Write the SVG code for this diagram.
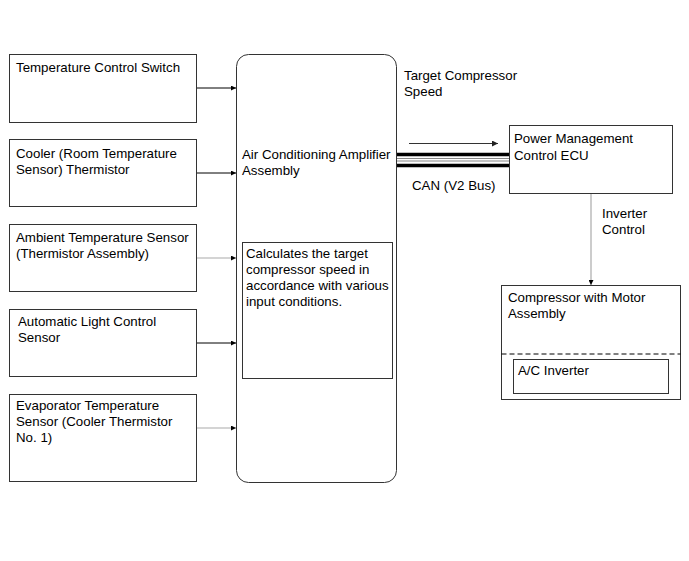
<svg xmlns="http://www.w3.org/2000/svg" width="689" height="561" viewBox="0 0 689 561">
<defs>
<marker id="ah" viewBox="0 0 10 10" refX="10" refY="5" markerWidth="8" markerHeight="5" markerUnits="userSpaceOnUse" orient="auto"><path d="M0,0 L10,5 L0,10 z" fill="#000"/></marker>
<marker id="ah2" viewBox="0 0 10 10" refX="10" refY="5" markerWidth="9" markerHeight="6" markerUnits="userSpaceOnUse" orient="auto"><path d="M0,0 L10,5 L0,10 z" fill="#222"/></marker>
</defs>
<style>
.box{fill:#fff;stroke:#333;stroke-width:1}
text{font-family:"Liberation Sans",Arial,sans-serif;font-size:13.3px;fill:#000}
.ln{stroke:#000;stroke-width:1;fill:none}
.lg{stroke:#aaa;stroke-width:1.2;fill:none}
</style>
<rect width="689" height="561" fill="#fff"/>
<g id="n1"><rect class="box" x="9.5" y="54.5" width="187" height="68"/><text x="16" y="72">Temperature Control Switch</text></g>
<g id="n2"><rect class="box" x="9.5" y="139.5" width="187" height="67"/><text x="16" y="158">Cooler (Room Temperature</text><text x="16" y="174">Sensor) Thermistor</text></g>
<g id="n3"><rect class="box" x="9.5" y="224.5" width="187" height="67"/><text x="16" y="242">Ambient Temperature Sensor</text><text x="16" y="258">(Thermistor Assembly)</text></g>
<g id="n4"><rect class="box" x="9.5" y="309.5" width="187" height="67"/><text x="18" y="326">Automatic Light Control</text><text x="18" y="342">Sensor</text></g>
<g id="n5"><rect class="box" x="9.5" y="394.5" width="187" height="87"/><text x="16" y="410">Evaporator Temperature</text><text x="16" y="426">Sensor (Cooler Thermistor</text><text x="16" y="442">No. 1)</text></g>
<g id="amp"><rect class="box" x="236.5" y="54.5" width="160" height="428" rx="12" ry="12"/><text x="242" y="159">Air Conditioning Amplifier</text><text x="242" y="175">Assembly</text></g>
<g id="calc"><rect class="box" x="242.5" y="242.5" width="150" height="136"/><text x="246" y="258">Calculates the target</text><text x="246" y="274">compressor speed in</text><text x="246" y="290">accordance with various</text><text x="246" y="306">input conditions.</text></g>
<g id="pm"><rect class="box" x="509.5" y="125.5" width="163" height="68"/><text x="514" y="143">Power Management</text><text x="514" y="160">Control ECU</text></g>
<g id="comp"><rect class="box" x="501.5" y="285.5" width="179" height="114"/><text x="508" y="302">Compressor with Motor</text><text x="508" y="318">Assembly</text><line x1="501.5" y1="354" x2="680.5" y2="354" stroke="#000" stroke-width="1" stroke-dasharray="5,3"/></g>
<g id="inv"><rect class="box" x="513.5" y="359.5" width="155" height="34"/><text x="518" y="375">A/C Inverter</text></g>
<g id="connectors">
<line class="ln" x1="197" y1="88" x2="236" y2="88" marker-end="url(#ah)"/>
<line class="ln" x1="197" y1="173" x2="236" y2="173" marker-end="url(#ah)"/>
<line class="lg" x1="197" y1="258" x2="236" y2="258" marker-end="url(#ah)"/>
<line class="ln" x1="197" y1="343" x2="236" y2="343" marker-end="url(#ah)"/>
<line class="lg" x1="197" y1="428" x2="236" y2="428" marker-end="url(#ah)"/>
<line x1="409" y1="143.5" x2="498" y2="143.5" stroke="#333" stroke-width="1.2" marker-end="url(#ah2)"/>
<line x1="397" y1="154.5" x2="509" y2="154.5" stroke="#000" stroke-width="3.5"/>
<line x1="397" y1="158.5" x2="509" y2="158.5" stroke="#888" stroke-width="1"/>
<line x1="397" y1="161" x2="509" y2="161" stroke="#888" stroke-width="1"/>
<line x1="397" y1="165.5" x2="509" y2="165.5" stroke="#000" stroke-width="3.5"/>
<line class="lg" x1="591" y1="194" x2="591" y2="285" marker-end="url(#ah)"/>
</g>
<g id="labels">
<text x="404" y="80">Target Compressor</text><text x="404" y="96">Speed</text>
<text x="412" y="190">CAN (V2 Bus)</text>
<text x="602" y="218">Inverter</text><text x="602" y="234">Control</text>
</g>
</svg>
